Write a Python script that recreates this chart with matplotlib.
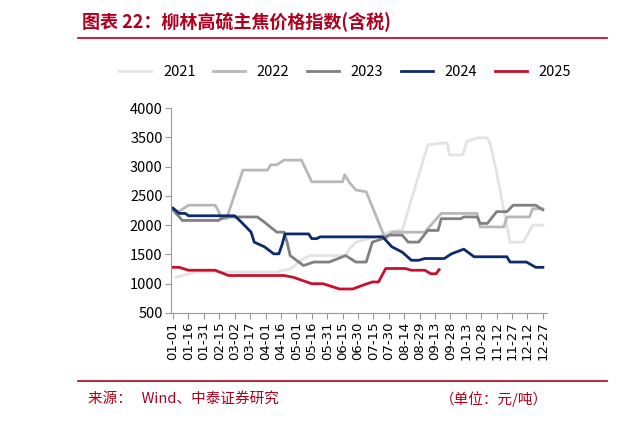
import matplotlib
matplotlib.use("Agg")
import matplotlib.pyplot as plt
import numpy as np

plt.rcParams['font.family'] = ['Noto Sans CJK SC', 'DejaVu Sans']

tick_labels = ["01-01","01-16","01-31","02-15","03-02","03-17","04-01","04-16","05-01","05-16",
               "05-31","06-15","06-30","07-15","07-30","08-14","08-29","09-13","09-28","10-13",
               "10-28","11-12","11-27","12-12","12-27"]

d2021 = [3,22,100,114,127,133,168,172,178,204,210,219,223,248,261,267,269,282,286,296,306,309,315,328,341,350,360]
v2021 = [1110,1200,1200,1250,1430,1480,1480,1600,1710,1830,1880,1910,1910,3370,3400,3400,3200,3200,3430,3490,3490,3370,2900,1710,1710,2000,2000]

d2022 = [3,15,41,44,47,52,68,92,95,101,108,125,135,165,167,172,178,188,204,207,213,245,261,296,299,322,325,347,350,360]
v2022 = [2200,2340,2340,2250,2110,2110,2940,2940,3030,3030,3110,3110,2740,2740,2860,2720,2600,2570,1880,1770,1880,1880,2200,2200,1970,1970,2140,2140,2280,2280]

d2023 = [0,9,44,50,82,89,101,108,111,114,127,137,152,168,178,188,194,204,210,223,229,239,248,258,261,280,283,296,299,306,315,325,331,353,360]
v2023 = [2260,2080,2080,2140,2140,2050,1880,1880,1710,1480,1310,1370,1370,1480,1370,1370,1710,1770,1830,1830,1710,1710,1910,1910,2110,2110,2140,2140,2030,2030,2230,2230,2340,2340,2260]

d2024 = [0,6,12,15,60,66,76,79,89,98,103,106,109,132,135,140,143,204,213,223,232,239,245,264,271,283,293,325,328,344,353,360]
v2024 = [2290,2200,2200,2160,2160,2060,1880,1710,1630,1510,1510,1660,1850,1850,1770,1770,1800,1800,1630,1540,1400,1400,1430,1430,1510,1590,1460,1460,1370,1370,1280,1280]

d2025 = [0,6,15,41,54,108,117,135,146,162,175,184,194,200,207,226,232,245,251,256,259]
v2025 = [1280,1280,1230,1230,1140,1140,1110,1000,1000,910,910,970,1030,1030,1260,1260,1230,1230,1170,1170,1240]

series = [("2021", d2021, v2021, "#e3e3e3"),
          ("2022", d2022, v2022, "#b8b8b8"),
          ("2023", d2023, v2023, "#808080"),
          ("2024", d2024, v2024, "#0d2a6e"),
          ("2025", d2025, v2025, "#c8102e")]

fig = plt.figure(figsize=(6.4, 4.22), dpi=100)
ax = fig.add_axes([171/640, 1-313/422, 376/640, 205/422])
for name, d, v, c in series:
    ax.plot(d, v, color=c, lw=2, label=name)

ax.set_ylim(500, 4000)
ax.set_yticks(np.arange(500, 4001, 500))
ax.set_xlim(-2, 364)
ax.set_xticks(np.arange(len(tick_labels)) * 15)
ax.set_xticklabels(tick_labels, rotation=90, fontsize=9.5, family='DejaVu Sans')
for t in ax.get_yticklabels():
    t.set_fontsize(10.5)
ax.spines['top'].set_visible(False)
ax.spines['right'].set_visible(False)
ax.spines['left'].set_color('#999999')
ax.spines['bottom'].set_color('#999999')
ax.tick_params(axis='both', color='#999999', length=4, pad=2)
ax.tick_params(axis='y', length=4)

leg = fig.legend(loc='center', bbox_to_anchor=(0.55, 72/422), ncol=5, frameon=False,
                 fontsize=10.5, handlelength=2.2, columnspacing=1.2)
leg.set_bbox_to_anchor((345/640, 1-72/422))

fig.text(82/640, 1-22/422, "图表 22：柳林高硫主焦价格指数(含税)", color="#b0001e",
         fontsize=13, fontweight='bold', style='italic', va='center')
fig.add_artist(plt.Line2D([78/640, 607/640], [1-38/422, 1-38/422], color="#b0001e", lw=1.2))
fig.add_artist(plt.Line2D([78/640, 607/640], [1-381/422, 1-381/422], color="#b0001e", lw=1.2))
fig.text(88/640, 1-399/422, "来源：   Wind、中泰证券研究", color="#b0001e", fontsize=10.5, va='center')
fig.text(548/640, 1-399/422, "（单位：元/吨）", color="#b0001e", fontsize=10.5, va='center', ha='right')

fig.savefig("out.png", dpi=100)
